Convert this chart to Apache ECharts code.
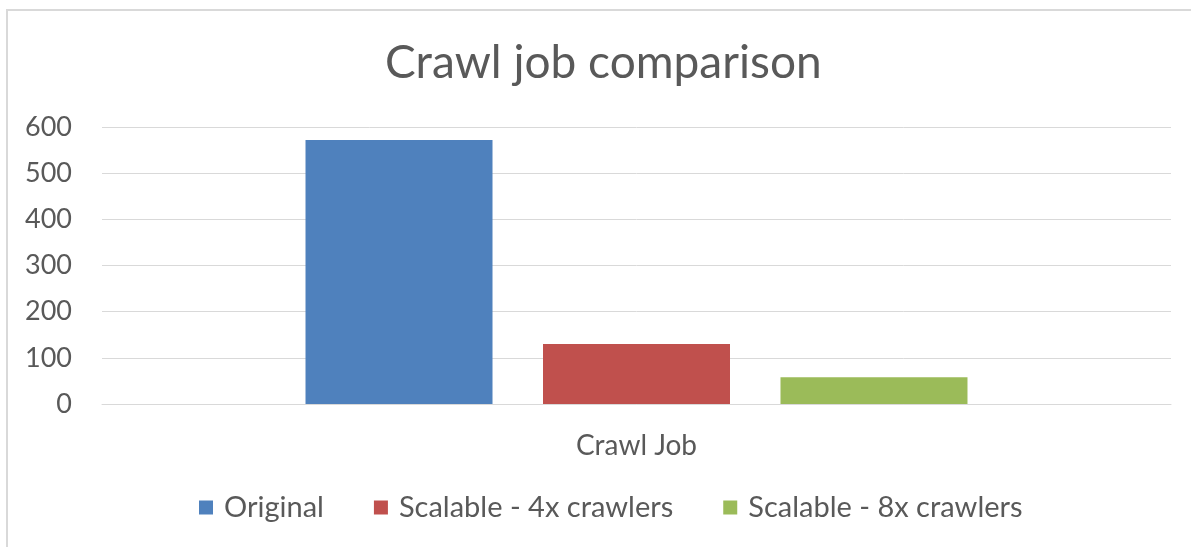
<!DOCTYPE html>
<html>
<head>
<meta charset="utf-8">
<script src="https://cdn.jsdelivr.net/npm/echarts@6/dist/echarts.min.js"></script>
<style>
  html, body { margin: 0; padding: 0; background: #fff; }
  #chart { width: 1191px; height: 547px; }
</style>
</head>
<body>
<div id="chart"></div>
<script>
// 数据
var categories = ['Crawl Job']
var seriesNames = ['Original', 'Scalable - 4x crawlers', 'Scalable - 8x crawlers']
var seriesValues = [[572], [130], [58]]
var seriesColors = ['#4f81bd', '#c0504d', '#9bbb59']
var yTicks = [0, 100, 200, 300, 400, 500, 600]

var chart = echarts.init(document.getElementById('chart'))

var textColor = '#595959'
var fontFamily = 'Lato, "Open Sans", sans-serif'

chart.setOption({
  animation: false,
  textStyle: { fontFamily: fontFamily },
  graphic: [
    { // 外框
      type: 'rect',
      shape: { x: 7, y: 10, width: 1300, height: 700 },
      style: { fill: 'none', stroke: '#d9d9d9', lineWidth: 2 },
      silent: true
    }
  ],
  title: {
    text: 'Crawl job comparison',
    left: 380,
    top: 35,
    textStyle: {
      color: textColor,
      fontSize: 46,
      fontWeight: 'normal',
      fontFamily: fontFamily
    }
  },
  grid: {
    left: 102,
    right: 20,
    top: 127,
    bottom: 143,
    containLabel: false
  },
  legend: {
    bottom: 20,
    left: 194,
    icon: 'rect',
    itemWidth: 14,
    itemHeight: 14,
    itemGap: 50,
    textStyle: { color: textColor, fontSize: 29, fontFamily: fontFamily, padding: [0, 0, 0, 6] },
    data: seriesNames
  },
  xAxis: {
    type: 'category',
    data: categories,
    axisLine: { lineStyle: { color: '#d9d9d9', width: 1 } },
    axisTick: { show: false },
    axisLabel: { color: textColor, fontSize: 28, margin: 28 }
  },
  yAxis: {
    type: 'value',
    min: yTicks[0],
    max: yTicks[yTicks.length - 1],
    interval: 100,
    axisLine: { show: false },
    axisTick: { show: false },
    axisLabel: { color: textColor, fontSize: 27, margin: 30 },
    splitLine: { lineStyle: { color: '#d9d9d9', width: 1 } }
  },
  series: seriesNames.map(function (name, i) {
    return {
      name: name,
      type: 'bar',
      data: seriesValues[i],
      barWidth: 187,
      barGap: '27%',
      itemStyle: { color: seriesColors[i] }
    }
  })
})
</script>
</body>
</html>
